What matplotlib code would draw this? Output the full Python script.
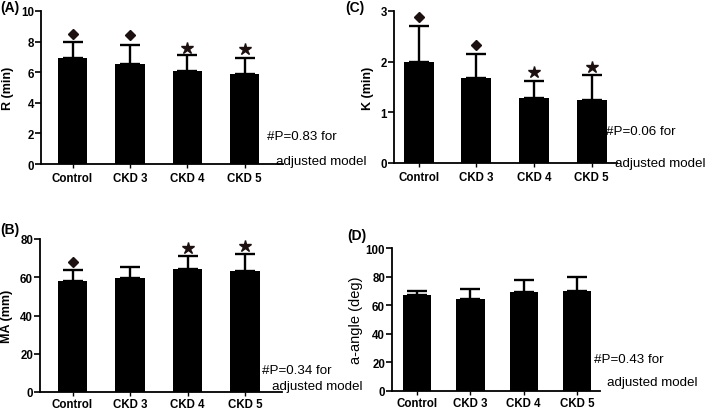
import numpy as np
import matplotlib.pyplot as plt

plt.rcParams['font.family'] = ['Liberation Sans', 'DejaVu Sans']

groups = ['Control', 'CKD 3', 'CKD 4', 'CKD 5']

# (A) R time
r_mean = [6.9, 6.55, 6.1, 5.9]
r_err = [1.05, 1.2, 1.0, 1.05]
r_sig = ['D', 'D', '*', '*']
r_sig_y = [8.5, 8.4, 7.6, 7.5]

# (C) K time
k_mean = [2.0, 1.68, 1.28, 1.24]
k_err = [0.71, 0.47, 0.34, 0.5]
k_sig = ['D', 'D', '*', '*']
k_sig_y = [2.89, 2.33, 1.79, 1.89]

# (B) MA
ma_mean = [57.8, 59.5, 64.2, 63.2]
ma_err = [5.8, 6.1, 6.7, 9.2]
ma_sig = ['D', None, '*', '*']
ma_sig_y = [67.8, None, 75.2, 76.5]

# (D) alpha angle
aa_mean = [66.8, 64.2, 69.5, 69.7]
aa_err = [3.4, 6.8, 7.8, 10.0]

W, H = 708, 410
fig = plt.figure(figsize=(W / 100, H / 100), dpi=100)


def px_axes(left, top, right, bottom):
    return fig.add_axes([left / W, 1 - bottom / H, (right - left) / W, (bottom - top) / H])


def fx(x):
    return x / W


def fy(y):
    return 1 - y / H


def draw_panel(ax, means, errs, ylim, yticks, ylabel, xlim, width, bold_label=True,
               sig=None, sig_y=None, xpad=3):
    ind = np.arange(len(groups))
    ax.bar(ind, means, width, color='black', zorder=2)
    ax.errorbar(ind, means, yerr=[np.zeros(len(errs)), errs], fmt='none',
                ecolor='black', elinewidth=1.7, capsize=7, capthick=1.7, zorder=1)
    if sig is not None:
        for i, m in enumerate(sig):
            if m == 'D':
                ax.plot(ind[i], sig_y[i], marker='D', color='#1c1010', markersize=5, clip_on=False)
            elif m == '*':
                ax.plot(ind[i], sig_y[i], marker='*', color='#1c1010', markersize=9, clip_on=False)
    ax.set_xlim(*xlim)
    ax.set_ylim(*ylim)
    ax.set_yticks(yticks)
    ax.set_xticks(ind)
    ax.set_xticklabels(groups, fontsize=8.3, fontweight='bold')
    for lab in ax.get_yticklabels():
        lab.set_fontsize(8.3)
        lab.set_fontweight('bold')
    ax.spines['top'].set_visible(False)
    ax.spines['right'].set_visible(False)
    ax.spines['left'].set_linewidth(1.3)
    ax.spines['bottom'].set_linewidth(1.3)
    ax.tick_params(axis='y', length=4, width=1.2, pad=1)
    ax.tick_params(axis='x', length=3, width=1.0, pad=xpad)
    if bold_label:
        ax.set_ylabel(ylabel, fontsize=9, fontweight='bold', labelpad=5)
    else:
        ax.set_ylabel(ylabel, fontsize=10.5, labelpad=2)


ax_a = px_axes(41, 12, 283, 165)
draw_panel(ax_a, r_mean, r_err, (0, 10), [0, 2, 4, 6, 8, 10], 'R (min)',
           (-0.55, 3.67), 0.51, sig=r_sig, sig_y=r_sig_y)

ax_c = px_axes(394, 12, 617, 164)
draw_panel(ax_c, k_mean, k_err, (0, 3), [0, 1, 2, 3], 'K (min)',
           (-0.43, 3.44), 0.52, sig=k_sig, sig_y=k_sig_y)

ax_b = px_axes(40, 240, 282, 393)
draw_panel(ax_b, ma_mean, ma_err, (0, 80), [0, 20, 40, 60, 80], 'MA (mm)',
           (-0.565, 3.64), 0.51, sig=ma_sig, sig_y=ma_sig_y, xpad=1)

ax_d = px_axes(392, 249, 600, 392)
draw_panel(ax_d, aa_mean, aa_err, (0, 100), [0, 20, 40, 60, 80, 100], 'a-angle (deg)',
           (-0.47, 3.43), 0.53, bold_label=False, xpad=1.5)

# panel letters
fig.text(fx(0), fy(8), '(A)', fontsize=10, fontweight='bold', va='center', ha='left')
fig.text(fx(345), fy(8), '(C)', fontsize=10, fontweight='bold', va='center', ha='left')
fig.text(fx(0), fy(230), '(B)', fontsize=10, fontweight='bold', va='center', ha='left')
fig.text(fx(347), fy(236), '(D)', fontsize=10, fontweight='bold', va='center', ha='left')

# p-value notes
notes = [
    ('#P=0.83 for', 267, 137, 276, 162),
    ('#P=0.06 for', 606, 132, 615, 164),
    ('#P=0.34 for', 262, 371, 272, 387),
    ('#P=0.43 for', 594, 360, 607, 383),
]
for txt, x1, y1, x2, y2 in notes:
    fig.text(fx(x1), fy(y1), txt, fontsize=9.6, va='center', ha='left')
    fig.text(fx(x2), fy(y2), 'adjusted model', fontsize=9.6, va='center', ha='left')

fig.savefig('out.png', dpi=100)
